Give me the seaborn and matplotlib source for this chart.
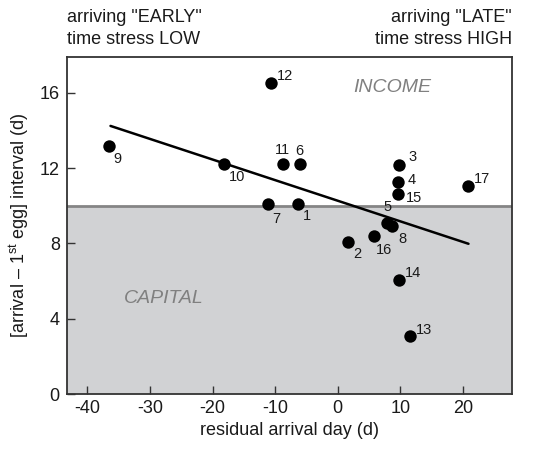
import matplotlib
matplotlib.use("Agg")
import matplotlib.pyplot as plt
import seaborn as sns
import pandas as pd

# birds: id, residual arrival day, arrival - first egg interval
bird_id = [1, 2, 3, 4, 5, 6, 7, 8, 9, 10, 11, 12, 13, 14, 15, 16, 17]
arrival = [-6.3, 1.6, 9.85, 9.6, 7.9, -6.1, -11.1, 8.7, -36.6, -18.1,
           -8.8, -10.6, 11.6, 9.85, 9.6, 5.8, 20.8]
interval = [10.08, 8.1, 12.19, 11.24, 9.07, 12.21, 10.08, 8.93, 13.2, 12.21,
            12.21, 16.51, 3.08, 6.08, 10.63, 8.37, 11.05]

# where each number sits relative to its point (pixels, x right / y down)
lab_dx = [9, 10, 13, 14, 0, 0, 8, 10, 9, 13, 0, 14, 14, 14, 16, 10, 14]
lab_dy = [12, 12, -8, -2, -16, -13, 15, 13, 13, 13, -14, -7, -6, -7, 4, 14, -7]

# fitted regression line end points
fit_x = [-36.3, 20.9]
fit_y = [14.24, 7.98]

threshold = 10
x_ticks = [-40, -30, -20, -10, 0, 10, 20]
y_ticks = [0, 4, 8, 12, 16]

df = pd.DataFrame({"id": bird_id, "arrival": arrival, "interval": interval})
fit = pd.DataFrame({"x": fit_x, "y": fit_y})

sns.set_style("ticks")
plt.rcParams["font.family"] = ["Liberation Sans", "DejaVu Sans"]
plt.rcParams["mathtext.fontset"] = "custom"
plt.rcParams["mathtext.rm"] = "Liberation Sans"
plt.rcParams["axes.unicode_minus"] = False

fig = plt.figure(figsize=(5.49, 4.5), dpi=100)
ax = fig.add_axes([0.1215, 0.1244, 0.8105, 0.7489])

ax.axhspan(0, threshold, color="#d1d2d4", zorder=0, lw=0)
ax.axhline(threshold, color="#858585", lw=2, zorder=1)

sns.lineplot(data=fit, x="x", y="y", color="black", lw=1.8, ax=ax, zorder=2)
sns.scatterplot(data=df, x="arrival", y="interval", color="black", s=80,
                linewidth=0, ax=ax, zorder=3)

for i, xv, yv, dx, dy in zip(bird_id, arrival, interval, lab_dx, lab_dy):
    ax.annotate(str(i), (xv, yv), xytext=(dx, -dy), textcoords="offset pixels",
                ha="center", va="center", fontsize=10.5, color="#1a1a1a")

ax.text(8.7, 16.3, "INCOME", style="italic", fontsize=14, color="#808080",
        ha="center", va="center")
ax.text(-27.8, 5.07, "CAPITAL", style="italic", fontsize=14, color="#808080",
        ha="center", va="center")

ax.set_xlim(-43.3, 27.8)
ax.set_ylim(0, 17.9)
ax.set_xticks(x_ticks)
ax.set_yticks(y_ticks)
ax.tick_params(direction="in", length=6, width=1, color="#333333",
               labelsize=13, labelcolor="#1a1a1a")
ax.tick_params(axis="x", pad=4)
ax.tick_params(axis="y", pad=5)
for s in ax.spines.values():
    s.set_visible(True)
    s.set_color("#333333")
    s.set_linewidth(1.3)

ax.set_xlabel("residual arrival day (d)", fontsize=13, color="#1a1a1a", labelpad=4)
ax.set_ylabel("[arrival \u2013 1$^{\\mathrm{st}}$ egg] interval (d)", fontsize=13,
              color="#1a1a1a", labelpad=6)

left = 66.7 / 549
right = 511.7 / 549
fig.text(left, 1 - 18 / 450, 'arriving "EARLY"', fontsize=13, ha="left", va="center", color="#1a1a1a")
fig.text(left, 1 - 40 / 450, "time stress LOW", fontsize=13, ha="left", va="center", color="#1a1a1a")
fig.text(right, 1 - 18 / 450, 'arriving "LATE"', fontsize=13, ha="right", va="center", color="#1a1a1a")
fig.text(right, 1 - 40 / 450, "time stress HIGH", fontsize=13, ha="right", va="center", color="#1a1a1a")

fig.savefig("out.png", dpi=100)
